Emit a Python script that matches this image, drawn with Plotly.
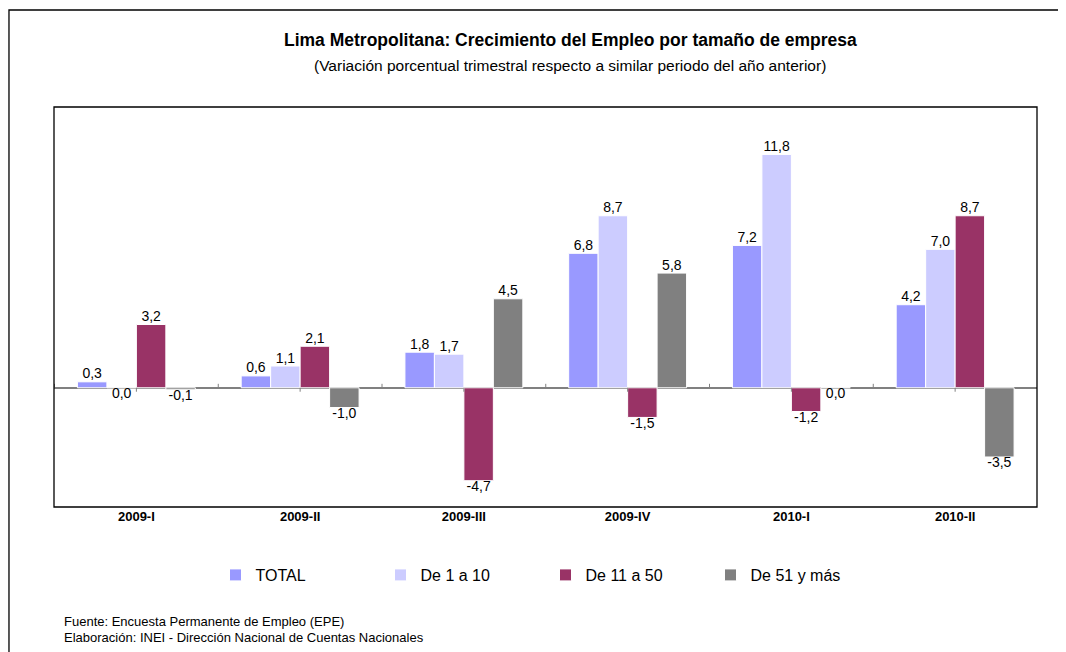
import plotly.graph_objects as go

categories = ["2009-I", "2009-II", "2009-III", "2009-IV", "2010-I", "2010-II"]
series_names = ["TOTAL", "De 1 a 10", "De 11 a 50", "De 51 y más"]
total = [0.3, 0.6, 1.8, 6.8, 7.2, 4.2]
de_1_10 = [0.0, 1.1, 1.7, 8.7, 11.8, 7.0]
de_11_50 = [3.2, 2.1, -4.7, -1.5, -1.2, 8.7]
de_51_mas = [-0.1, -1.0, 4.5, 5.8, 0.0, -3.5]
colors = ["#9999FF", "#CCCCFF", "#993366", "#808080"]

FONT = "Liberation Sans, Arial, sans-serif"
GAP = 0.28

def fmt(v):
    return f"{v:.1f}".replace(".", ",")

fig = go.Figure()
all_series = [total, de_1_10, de_11_50, de_51_mas]
for i, (name, vals, col) in enumerate(zip(series_names, all_series, colors)):
    fig.add_trace(go.Bar(
        x=categories, y=vals, name=name, offsetgroup=str(i),
        marker=dict(color=col, line=dict(color="white", width=1)),
    ))
for i, vals in enumerate(all_series):
    fig.add_trace(go.Scatter(
        x=categories, y=vals, mode="text", offsetgroup=str(i), showlegend=False,
        text=[fmt(v) for v in vals],
        textposition=["top center" if v > 0 else "bottom center" for v in vals],
        textfont=dict(family=FONT, size=14, color="black"),
        cliponaxis=False, hoverinfo="skip",
    ))

fig.update_layout(
    width=1066, height=652,
    margin=dict(l=46, r=37, t=99, b=153),
    paper_bgcolor="white", plot_bgcolor="white",
    barmode="group", bargap=GAP, bargroupgap=0,
    scattermode="group", scattergap=GAP,
    font=dict(family=FONT, color="black"),
    showlegend=True,
    legend=dict(orientation="h", x=0.50, xanchor="center", y=-0.17, yanchor="middle",
                font=dict(family=FONT, size=16), entrywidth=120, itemwidth=30),
    xaxis=dict(showgrid=False, showline=False, ticks="",
               tickfont=dict(family=FONT, size=13, weight="bold")),
    yaxis=dict(range=[-6.03, 14.2], showgrid=False, showticklabels=False, zeroline=True,
               zerolinecolor="#808080", zerolinewidth=1.5, showline=False),
)

# small tick marks on the zero line (category boundaries up, centers down)
for k in range(len(categories)):
    fig.add_shape(type="line", xref="x", yref="y", x0=k - 0.5, x1=k - 0.5, y0=0, y1=0.2,
                  line=dict(color="#808080", width=1))
    fig.add_shape(type="line", xref="x", yref="y", x0=k, x1=k, y0=0, y1=-0.2,
                  line=dict(color="#808080", width=1))

# plot area border
fig.add_shape(type="rect", xref="paper", yref="paper", x0=0, x1=1, y0=0, y1=1,
              line=dict(color="black", width=1.3), layer="above")
# outer frame
fig.add_shape(type="rect", xref="paper", yref="paper", x0=-0.0458, x1=1.06, y0=-0.45, y1=1.2425,
              line=dict(color="black", width=1.3))

fig.add_annotation(text="<b>Lima Metropolitana: Crecimiento del Empleo por tamaño de empresa</b>",
                   xref="paper", yref="paper", x=0.525, y=1.1675, showarrow=False,
                   font=dict(family=FONT, size=17.5, color="black"), xanchor="center", yanchor="middle")
fig.add_annotation(text="(Variación porcentual trimestral respecto a similar periodo del año anterior)",
                   xref="paper", yref="paper", x=0.525, y=1.105, showarrow=False,
                   font=dict(family=FONT, size=15.5, color="black"), xanchor="center", yanchor="middle")
fig.add_annotation(text="Fuente: Encuesta Permanente de Empleo (EPE)",
                   xref="paper", yref="paper", x=(62 - 54) / 983, y=(507 - 621) / 400, showarrow=False,
                   font=dict(family=FONT, size=13, color="black"), xanchor="left", yanchor="middle")
fig.add_annotation(text="Elaboración: INEI - Dirección Nacional de Cuentas Nacionales",
                   xref="paper", yref="paper", x=(62 - 54) / 983, y=(507 - 637) / 400, showarrow=False,
                   font=dict(family=FONT, size=13, color="black"), xanchor="left", yanchor="middle")

fig.write_html("out.html")
